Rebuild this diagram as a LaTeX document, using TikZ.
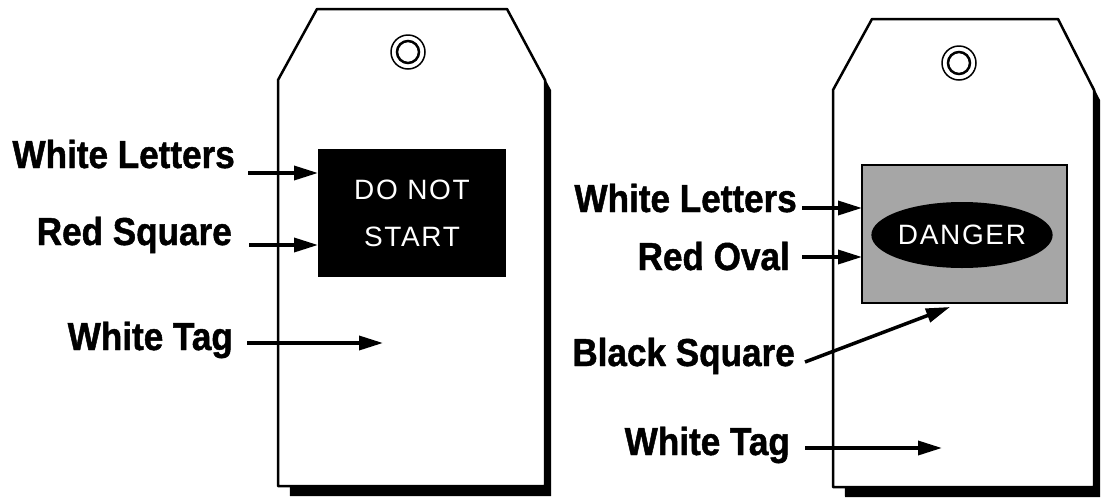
\documentclass[tikz,border=0pt]{standalone}
\usepackage{fontspec}
\setmainfont{Liberation Sans}
\newfontfamily\calloutfont[FakeStretch=0.9,FakeBold=1.2]{Liberation Sans Bold}
\newfontfamily\platefont[LetterSpace=6]{Liberation Sans}
\usetikzlibrary{arrows.meta,shapes.geometric}

\begin{document}
\begin{tikzpicture}[x=1pt, y=-1pt,
    callout/.style={anchor=base east, inner sep=0pt, font=\calloutfont\fontsize{39}{40}\selectfont},
    pointer/.style={line width=3.5pt, -{Triangle[length=24pt,width=14pt]}},
    tagline/.style={line width=2.5pt, line join=round, fill=white},
    shadow/.style={fill=black, xshift=6pt, yshift=-10pt},
    plate/.style={text=white, inner sep=0pt, font=\platefont\fontsize{28}{47}\selectfont}]
  \useasboundingbox (0,0) rectangle (1101,499);

  % left tag
  \fill[shadow] (317,9) -- (507,9) -- (545,80) -- (545,486) -- (284,486) -- (278,80) -- cycle;
  \draw[tagline] (317,9) -- (507,9) -- (545,80) -- (545,486) -- (278,486) -- (278,80) -- cycle;
  \draw[line width=1.5pt] (408,52) circle (17pt);
  \draw[line width=2.5pt] (408,52) circle (11pt);
  \node[plate, fill=black, align=center, minimum width=188pt, minimum height=128pt] (square) at (412,213) {DO NOT\\START};

  % right tag
  \fill[shadow] (872,19) -- (1058,19) -- (1094,90) -- (1094,487) -- (839,487) -- (833,90) -- cycle;
  \draw[tagline] (872,19) -- (1058,19) -- (1094,90) -- (1094,487) -- (833,487) -- (833,90) -- cycle;
  \draw[line width=1.5pt] (959,63) circle (17pt);
  \draw[line width=2.5pt] (959,63) circle (11pt);
  \node[draw, line width=2.5pt, fill=black!35, minimum width=205pt, minimum height=138pt] (panel) at (964.5,234) {};
  \node[plate, ellipse, fill=black, minimum width=150pt, minimum height=66pt] (oval) at (962,235) {DANGER};

  % labels on the left
  \node[callout] (letters1) at (235,168) {White Letters};
  \node[callout] (redsq) at (232,245) {Red Square};
  \node[callout] (tag1) at (233,350) {White Tag};
  \coordinate (letters1 tip) at (318,173);
  \coordinate (redsq tip) at (318,245);
  \coordinate (tag1 tip) at (383,343);
  \draw[pointer] ([shift={(13,5)}]letters1.base east) -- (letters1 tip);
  \draw[pointer] ([shift={(17,0)}]redsq.base east) -- (redsq tip);
  \draw[pointer] ([shift={(14,-7)}]tag1.base east) -- (tag1 tip);

  % labels on the right
  \node[callout] (letters2) at (797,212) {White Letters};
  \node[callout] (redoval) at (790,270) {Red Oval};
  \node[callout] (blacksq) at (795,366) {Black Square};
  \node[callout] (tag2) at (790,455) {White Tag};
  \coordinate (letters2 tip) at (862,208);
  \coordinate (redoval tip) at (862,257);
  \coordinate (blacksq tip) at (950,307);
  \coordinate (tag2 tip) at (942,448);
  \draw[pointer] ([shift={(5,-4)}]letters2.base east) -- (letters2 tip);
  \draw[pointer] ([shift={(12,-13)}]redoval.base east) -- (redoval tip);
  \draw[pointer] ([shift={(10,-4)}]blacksq.base east) -- (blacksq tip);
  \draw[pointer] ([shift={(15,-7)}]tag2.base east) -- (tag2 tip);
\end{tikzpicture}
\end{document}
